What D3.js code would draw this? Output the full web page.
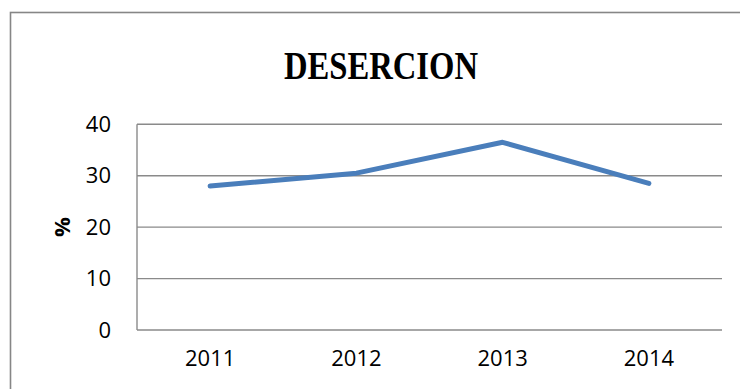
<!DOCTYPE html>
<html>
<head>
<meta charset="utf-8">
<script src="https://cdn.jsdelivr.net/npm/d3@7"></script>
<style>
  html, body { margin: 0; padding: 0; background: #fff; }
  svg { display: block; }
</style>
</head>
<body>
<svg id="chart" width="740" height="389"></svg>
<script>
// Dropout rate by year
const years = ["2011", "2012", "2013", "2014"];
const desercion = [28.0, 30.5, 36.5, 28.5];
const yTicks = [0, 10, 20, 30, 40];
const chartTitle = "DESERCION";
const yTitle = "%";

const svg = d3.select("#chart");
const W = 740, H = 389;
const plot = { left: 137, right: 722, top: 124.3, bottom: 330 };

// outer chart frame (runs off the right and bottom edges)
svg.append("rect")
  .attr("x", 10.5).attr("y", 12.5)
  .attr("width", W + 20).attr("height", H + 20)
  .attr("fill", "#fff")
  .attr("stroke", "#868686")
  .attr("stroke-width", 1.6);

const x = d3.scaleBand().domain(years).range([plot.left, plot.right]).padding(0);
const y = d3.scaleLinear().domain([0, 40]).range([plot.bottom, plot.top]);

// horizontal gridlines
svg.append("g")
  .selectAll("line")
  .data(yTicks)
  .join("line")
  .attr("x1", plot.left).attr("x2", plot.right)
  .attr("y1", d => y(d)).attr("y2", d => y(d))
  .attr("stroke", "#8a8a8a")
  .attr("stroke-width", 1.4);

// vertical axis line
svg.append("line")
  .attr("x1", plot.left).attr("x2", plot.left)
  .attr("y1", plot.top).attr("y2", plot.bottom)
  .attr("stroke", "#8a8a8a")
  .attr("stroke-width", 1.4);

// y axis labels
const yAxis = d3.axisLeft(y).tickValues(yTicks).tickSize(0).tickPadding(26);
svg.append("g")
  .attr("transform", `translate(${plot.left},0)`)
  .call(yAxis)
  .call(g => g.select(".domain").remove())
  .selectAll("text")
  .attr("font-family", "'Open Sans', sans-serif")
  .attr("font-size", 22)
  .attr("fill", "#000");

// x axis labels
const xAxis = d3.axisBottom(x).tickSize(0).tickPadding(20);
svg.append("g")
  .attr("transform", `translate(0,${plot.bottom})`)
  .call(xAxis)
  .call(g => g.select(".domain").remove())
  .selectAll("text")
  .attr("font-family", "'Open Sans', sans-serif")
  .attr("font-size", 22)
  .attr("fill", "#000");

// series line
const line = d3.line()
  .x((d, i) => x(years[i]) + x.bandwidth() / 2)
  .y(d => y(d));

svg.append("path")
  .datum(desercion)
  .attr("d", line)
  .attr("fill", "none")
  .attr("stroke", "#4A7EBB")
  .attr("stroke-width", 5)
  .attr("stroke-linecap", "round")
  .attr("stroke-linejoin", "round");

// title
svg.append("text")
  .attr("x", 381).attr("y", 79)
  .attr("text-anchor", "middle")
  .attr("font-family", "'Liberation Serif', serif")
  .attr("font-weight", "bold")
  .attr("font-size", 39)
  .attr("textLength", 194)
  .attr("lengthAdjust", "spacingAndGlyphs")
  .attr("fill", "#000")
  .text(chartTitle);

// y axis title
svg.append("text")
  .attr("transform", `translate(70,${(plot.top + plot.bottom) / 2}) rotate(-90)`)
  .attr("text-anchor", "middle")
  .attr("font-family", "'Open Sans', sans-serif")
  .attr("font-weight", "bold")
  .attr("font-size", 22)
  .attr("fill", "#000")
  .text(yTitle);
</script>
</body>
</html>
